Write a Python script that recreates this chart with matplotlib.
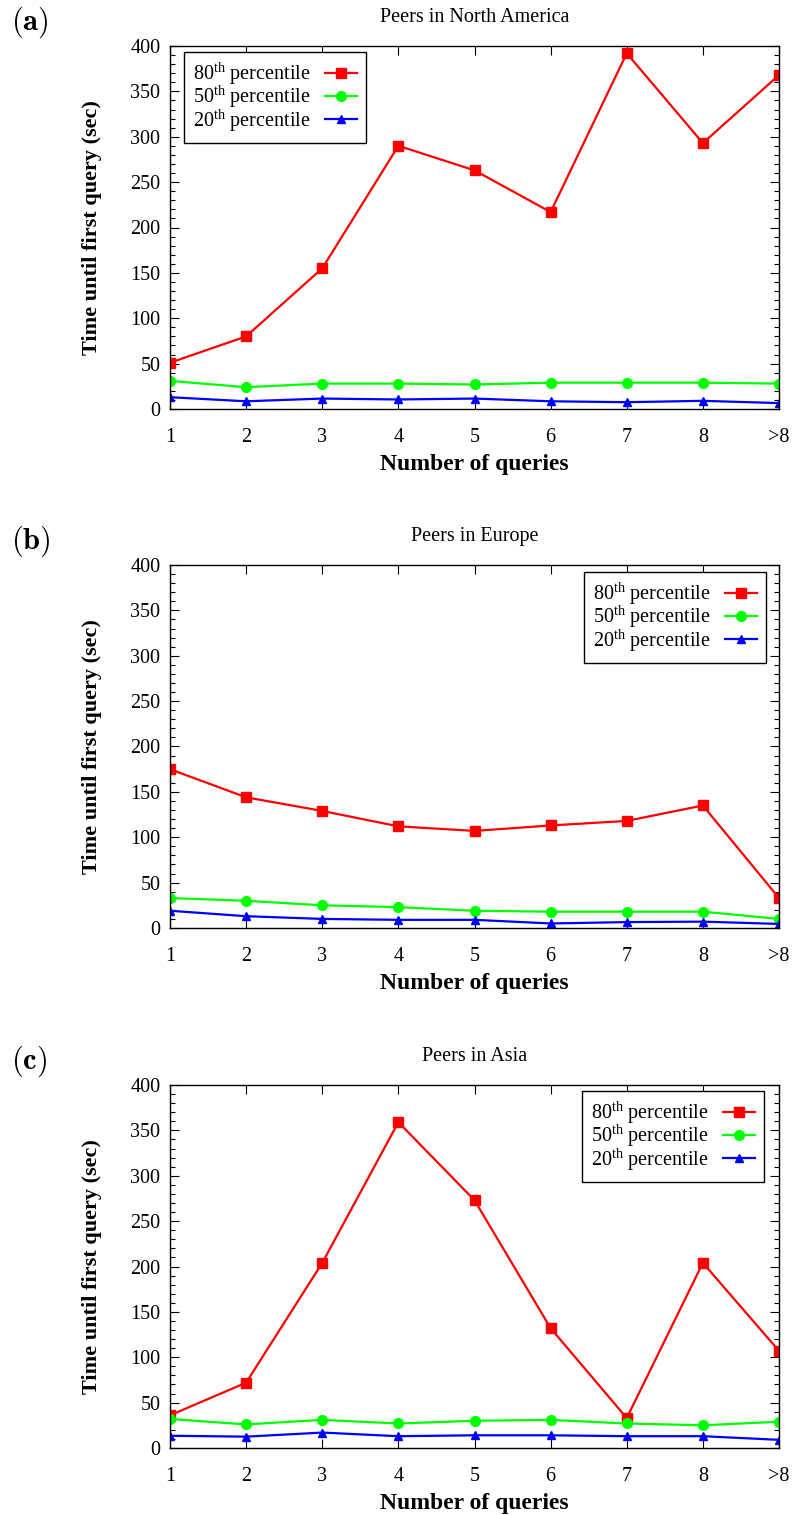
import matplotlib
matplotlib.use("Agg")
import matplotlib.pyplot as plt
from matplotlib.ticker import MultipleLocator

plt.rcParams['font.family'] = ['Liberation Serif', 'DejaVu Serif']
plt.rcParams['mathtext.fontset'] = 'custom'
plt.rcParams['mathtext.rm'] = 'Liberation Serif'
plt.rcParams['mathtext.it'] = 'Liberation Serif:italic'
plt.rcParams['mathtext.bf'] = 'Liberation Serif:bold'

categories = ["1", "2", "3", "4", "5", "6", "7", "8", ">8"]

na_p80 = [51, 80, 155, 290, 263, 217, 392, 293, 368]
na_p50 = [31, 24, 28, 28, 27, 29, 29, 29, 28]
na_p20 = [13, 8.5, 11.5, 10.5, 11.5, 8.5, 7.5, 9, 6.5]

eu_p80 = [175, 144, 129, 112, 107, 113, 118, 135, 33]
eu_p50 = [33, 30, 25, 23, 19, 18, 18, 18, 10]
eu_p20 = [19, 13, 10, 9, 9, 5, 6.5, 7, 4.5]

as_p80 = [36, 72, 204, 359, 273, 132, 33, 204, 107]
as_p50 = [32, 26, 31, 27, 30, 31, 27, 25, 29]
as_p20 = [13.5, 12.5, 17, 13, 14, 14, 13, 13, 9]

W, H = 792.0, 1515.0
AX_L, AX_R, AX_H = 170.0, 779.0, 363.0

panels = [
    ("a", "Peers in North America", na_p80, na_p50, na_p20, 46.0, "upper left", (14.0, 6.0)),
    ("b", "Peers in Europe", eu_p80, eu_p50, eu_p20, 565.0, "upper right", (13.0, 7.0)),
    ("c", "Peers in Asia", as_p80, as_p50, as_p20, 1085.0, "upper right", (15.0, 6.0)),
]

fig = plt.figure(figsize=(W / 100, H / 100), dpi=100)
x = list(range(1, len(categories) + 1))
axw = AX_R - AX_L

for tag, title, p80, p50, p20, top, loc, (dx, dy) in panels:
    bottom = 1 - (top + AX_H) / H
    ax = fig.add_axes([AX_L / W, bottom, axw / W, AX_H / H])
    ax.plot(x, p80, color="#ff0000", lw=1.6, marker="s", ms=7, label=r"80$^{\mathrm{th}}$ percentile")
    ax.plot(x, p50, color="#00ff00", lw=1.6, marker="o", ms=7, label=r"50$^{\mathrm{th}}$ percentile")
    ax.plot(x, p20, color="#0000ff", lw=1.6, marker="^", ms=6, label=r"20$^{\mathrm{th}}$ percentile")
    ax.set_xlim(1, 9)
    ax.set_ylim(0, 400)
    ax.set_xticks(x)
    ax.set_xticklabels(categories)
    ax.yaxis.set_major_locator(MultipleLocator(50))
    ax.yaxis.set_minor_locator(MultipleLocator(10))
    ax.tick_params(axis="both", which="both", direction="in", top=True, right=True, labelsize=14.5)
    ax.tick_params(axis="both", which="major", length=6.5, width=0.8)
    ax.tick_params(axis="both", which="minor", length=3.5, width=0.8)
    ax.tick_params(axis="x", pad=14)
    ax.tick_params(axis="y", pad=7)
    for s in ax.spines.values():
        s.set_linewidth(1.0)
    ax.set_title(title, fontsize=14.5, pad=17)
    ax.set_xlabel("Number of queries", fontsize=17, fontweight="bold", labelpad=5)
    ax.set_ylabel("Time until first query (sec)", fontsize=16, fontweight="bold", labelpad=20)
    if loc == "upper left":
        anchor = (dx / axw, 1 - dy / AX_H)
    else:
        anchor = (1 - dx / axw, 1 - dy / AX_H)
    leg = ax.legend(loc=loc, bbox_to_anchor=anchor, markerfirst=False, fontsize=14.5, frameon=True,
                    fancybox=False, edgecolor="black", framealpha=1, handlelength=1.6,
                    labelspacing=-0.15, borderpad=0.45, borderaxespad=0.0, handletextpad=0.7)
    leg.get_frame().set_linewidth(1.0)
    fig.text(11 / W, 1 - (top - 24) / H, r"$\mathbf{(" + tag + r")}$",
             fontsize=22, math_fontfamily="cm", ha="left", va="center")

fig.savefig("out.png", dpi=100)
